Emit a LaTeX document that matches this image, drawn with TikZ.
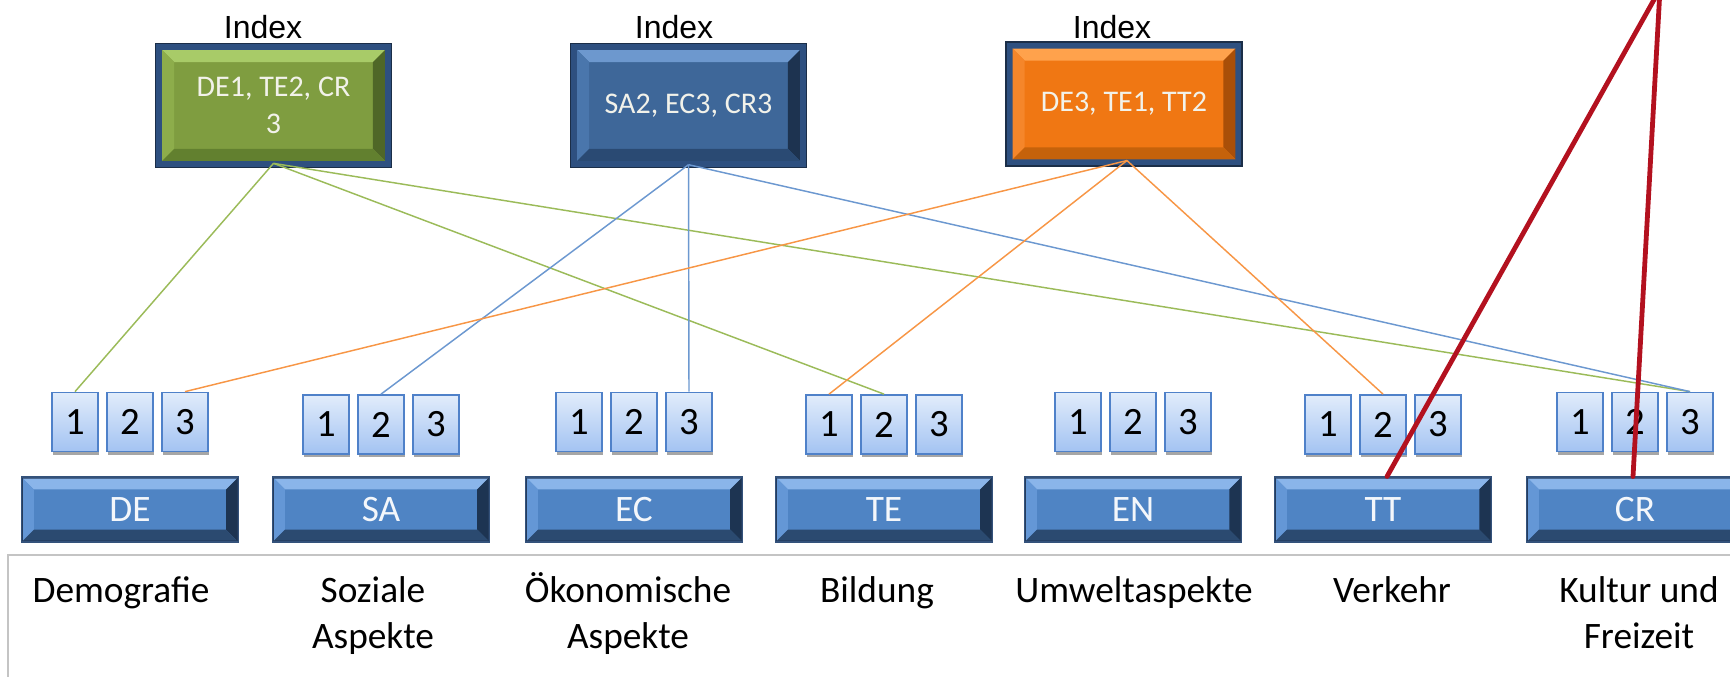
\documentclass[tikz,border=0pt]{standalone}
\usepackage{fontspec}
\setmainfont{Carlito}
\newfontfamily\arialfont{Liberation Sans}
\usetikzlibrary{shadows,calc}

\definecolor{barbase}{HTML}{4F84C4}
\definecolor{bartop}{HTML}{8AB5EA}
\definecolor{barleft}{HTML}{6497D6}
\definecolor{barright}{HTML}{1D3452}
\definecolor{barbot}{HTML}{2B4A70}
\definecolor{barframe}{HTML}{243C5E}
\definecolor{baredge}{HTML}{34527B}
\definecolor{bartext}{HTML}{F4F7FB}
\definecolor{navyframe}{HTML}{2E5080}
\definecolor{navyedge}{HTML}{1B2E48}
\definecolor{gbase}{HTML}{7F9D40}
\definecolor{gtop}{HTML}{A8CB68}
\definecolor{gleft}{HTML}{8DAD4B}
\definecolor{gright}{HTML}{4F6727}
\definecolor{gbot}{HTML}{62802F}
\definecolor{bbase}{HTML}{3E6799}
\definecolor{btop}{HTML}{6D98CE}
\definecolor{bleft}{HTML}{4A76AC}
\definecolor{bright}{HTML}{1D3350}
\definecolor{bbot}{HTML}{2A4A73}
\definecolor{obase}{HTML}{F07713}
\definecolor{otop}{HTML}{FFA24C}
\definecolor{oleft}{HTML}{F5862A}
\definecolor{oright}{HTML}{A94F08}
\definecolor{obot}{HTML}{C5620B}
\definecolor{sqtop}{HTML}{E1ECFB}
\definecolor{sqbot}{HTML}{A3C3F2}
\definecolor{sqedge}{HTML}{4F81C9}
\definecolor{glinec}{HTML}{9BBB59}
\definecolor{blinec}{HTML}{6C98D0}
\definecolor{olinec}{HTML}{F79646}
\definecolor{redl}{HTML}{B3111F}
\definecolor{framegrey}{HTML}{C4C4C4}
\definecolor{boxtext}{HTML}{F2F2EA}

% bevel: #1 inset, #2 base, #3 top, #4 left, #5 right, #6 bottom, #7 depth
\newcommand\bevdraw[7]{%
  \coordinate (bvA) at ([shift={(#1,-#1)}]path picture bounding box.north west);
  \coordinate (bvB) at ([shift={(-#1,-#1)}]path picture bounding box.north east);
  \coordinate (bvC) at ([shift={(-#1,#1)}]path picture bounding box.south east);
  \coordinate (bvD) at ([shift={(#1,#1)}]path picture bounding box.south west);
  \fill[#2] (bvA) rectangle (bvC);
  \fill[#3] (bvA) -- (bvB) -- ([shift={(-#7,-#7)}]bvB) -- ([shift={(#7,-#7)}]bvA) -- cycle;
  \fill[#4] (bvA) -- ([shift={(#7,-#7)}]bvA) -- ([shift={(#7,#7)}]bvD) -- (bvD) -- cycle;
  \fill[#5] (bvB) -- (bvC) -- ([shift={(-#7,#7)}]bvC) -- ([shift={(-#7,-#7)}]bvB) -- cycle;
  \fill[#6] (bvD) -- (bvC) -- ([shift={(-#7,#7)}]bvC) -- ([shift={(#7,#7)}]bvD) -- cycle;
}

\begin{document}
\begin{tikzpicture}[x=0.75pt,y=-0.75pt,
  bar/.style={rectangle, minimum width=162.75pt, minimum height=48.75pt, inner sep=0pt,
    fill=barframe, draw=baredge, line width=0.8pt, text=bartext,
    font=\fontsize{28}{32}\selectfont,
    path picture={\bevdraw{1.2pt}{barbase}{bartop}{barleft}{barright}{barbot}{8pt}}},
  sqbox/.style={rectangle, minimum width=34.5pt, minimum height=44.25pt, inner sep=0pt,
    draw=sqedge, line width=1.3pt, top color=sqtop, bottom color=sqbot,
    font=\fontsize{29}{32}\selectfont,
    drop shadow={shadow xshift=0.6pt, shadow yshift=-2.5pt, opacity=0.35, fill=black}},
  topbox/.style={rectangle, minimum width=177pt, minimum height=93pt, inner sep=0pt,
    fill=navyframe, draw=navyedge, line width=0.8pt, text=boxtext, align=center,
    font=\fontsize{22.5}{28}\selectfont},
  idx/.style={inner sep=0pt, font=\arialfont\fontsize{24}{27}\selectfont},
  lab/.style={anchor=base, align=center, inner sep=0pt, font=\fontsize{28}{34.5}\selectfont},
  thin/.style={line width=1.1pt},
  redline/.style={draw=redl, line width=3.6pt, line cap=round}
]
\useasboundingbox (0,0) rectangle (1730,677);
\begin{scope}
\clip (0,0) rectangle (1730,677);

% frame of the table
\draw[framegrey, line width=1.5pt] (8,735) -- (8,555) -- (1760,555);

% index labels
\node[idx] (iG) at (263,27.5) {Index};
\node[idx] (iB) at (674,27.5) {Index};
\node[idx] (iO) at (1112,27.5) {Index};

% top boxes
\node[topbox, path picture={\bevdraw{5pt}{gbase}{gtop}{gleft}{gright}{gbot}{9pt}}]
  (G) at (273.5,105.5) {DE1, TE2, CR\\3};
\node[topbox, path picture={\bevdraw{5pt}{bbase}{btop}{bleft}{bright}{bbot}{9pt}}]
  (B) at (688.5,105.5) {SA2, EC3, CR3};
\node[topbox, path picture={\bevdraw{5pt}{obase}{otop}{oleft}{oright}{obot}{9pt}}]
  (O) at (1124,104) {DE3, TE1, TT2};

\coordinate (Gs) at ([yshift=3.5pt]G.south);
\coordinate (Bs) at ([yshift=2.5pt]B.south);
\coordinate (Os) at ([xshift=2.2pt,yshift=4.5pt]O.south);

% bars
\foreach \n/\cx in {DE/130, SA/381, EC/634, TE/884, EN/1133, TT/1383, CR/1635}{
  \node[bar] (b\n) at (\cx,509.5) {\n};
}

% squares
\foreach \n/\cx/\sy in {DE/130/422, SA/381/424.5, EC/634/422, TE/884/424.5, EN/1133/422, TT/1383/424.5, CR/1635/422}{
  \node[sqbox] (\n1) at ({\cx-55},\sy) {1};
  \node[sqbox] (\n2) at (\cx,\sy) {2};
  \node[sqbox] (\n3) at ({\cx+55},\sy) {3};
}

% connectors from the index boxes to the squares
\draw[thin, glinec] (Gs) -- (DE1.north);
\draw[thin, glinec] (Gs) -- (TE2.north);
\draw[thin, glinec] (Gs) -- (CR3.north);
\draw[thin, blinec] (Bs) -- (SA2.north);
\draw[thin, blinec] (Bs) -- (EC3.north);
\draw[thin, blinec] (Bs) -- (CR3.north);
\draw[thin, olinec] (Os) -- (DE3.north);
\draw[thin, olinec] (Os) -- (TE1.north);
\draw[thin, olinec] (Os) -- (TT2.north);

% labels
\node[lab] (lDE) at (121,602) {Demografie};
\node[lab] (lSA) at (373,648) {Soziale\\Aspekte};
\node[lab] (lEC) at (628,648) {Ökonomische\\Aspekte};
\node[lab] (lTE) at (877,602) {Bildung};
\node[lab] (lEN) at (1134,602) {Umweltaspekte};
\node[lab] (lTT) at (1392,602) {Verkehr};
\node[lab] (lCR) at (1639,648) {Kultur und\\Freizeit};

% red lines
\coordinate (apex) at (1660,-11);
\draw[redline] ([xshift=3pt]bTT.north) -- (apex);
\draw[redline] ([xshift=-1.5pt]bCR.north) -- (apex);
\end{scope}
\end{tikzpicture}
\end{document}
